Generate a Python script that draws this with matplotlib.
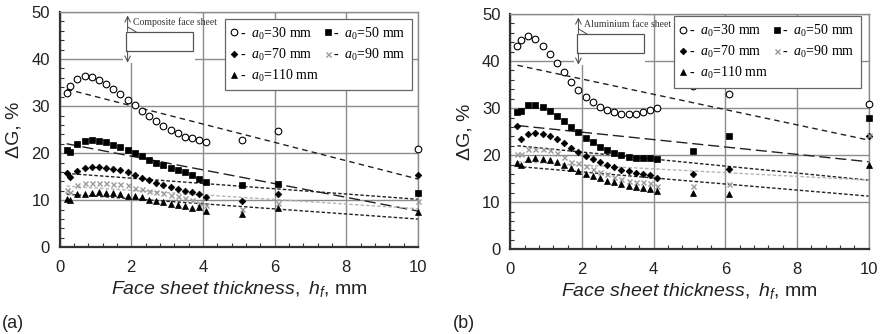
import numpy as np
import matplotlib
matplotlib.use("Agg")
import matplotlib.pyplot as plt
from matplotlib.lines import Line2D
from matplotlib.patches import Rectangle

plt.rcParams['font.family'] = ['Liberation Sans', 'DejaVu Sans']
plt.rcParams['mathtext.fontset'] = 'custom'
plt.rcParams['mathtext.rm'] = 'Liberation Sans'
plt.rcParams['mathtext.it'] = 'Liberation Sans:italic'
plt.rcParams['mathtext.sf'] = 'Liberation Serif:italic'
plt.rcParams['mathtext.tt'] = 'Liberation Serif'

# ---------------- data ----------------
x = [0.2, 0.3, 0.5, 0.7, 0.9, 1.1, 1.3, 1.5, 1.7, 1.9, 2.1, 2.3, 2.5, 2.7, 2.9,
     3.1, 3.3, 3.5, 3.7, 3.9, 4.1, 5.1, 6.1, 10.0]

# (a) composite face sheet
a_30 = [32.7, 34.2, 35.7, 36.3, 36.1, 35.6, 34.8, 33.7, 32.6, 31.4, 30.2, 29.0, 27.9,
        26.9, 25.8, 25.0, 24.2, 23.5, 23.3, 22.9, 22.3, 22.7, 24.8, 20.9]
a_50 = [20.7, 20.3, 21.9, 22.5, 22.7, 22.6, 22.3, 21.8, 21.3, 20.6, 20.1, 19.3, 18.6,
        18.0, 17.4, 16.9, 16.4, 15.9, 15.4, 14.5, 13.9, 13.2, 13.5, 11.5]
a_70 = [15.7, 15.0, 16.3, 16.8, 17.0, 17.0, 16.9, 16.7, 16.4, 15.9, 15.4, 14.8, 14.3,
        13.7, 13.3, 12.8, 12.3, 12.0, 11.7, 11.4, 10.6, 9.9, 11.3, 15.4]
a_90 = [12.1, 11.8, 13.3, 13.6, 13.6, 13.6, 13.6, 13.5, 13.4, 13.3, 12.7, 12.4, 12.0,
        11.8, 11.5, 11.2, 10.9, 10.5, 10.1, 9.5, 9.0, 8.1, 9.4, 9.9]
a_110 = [10.2, 10.0, 11.3, 11.4, 11.6, 11.7, 11.6, 11.5, 11.3, 11.0, 10.8, 10.6, 10.1,
         9.8, 9.6, 9.2, 8.9, 8.7, 8.4, 8.5, 7.8, 7.0, 8.3, 7.6]

# (b) aluminium face sheet
b_30 = [43.1, 44.4, 45.3, 44.6, 43.3, 41.4, 39.5, 37.6, 35.6, 33.9, 32.4, 31.2, 30.2,
        29.6, 29.2, 28.8, 28.7, 28.7, 29.1, 29.6, 30.0, 34.7, 33.0, 30.9]
b_50 = [29.1, 29.3, 30.6, 30.6, 30.2, 29.4, 28.3, 27.2, 26.0, 24.9, 23.6, 22.7, 21.7,
        21.1, 20.5, 20.0, 19.7, 19.5, 19.4, 19.4, 19.2, 20.9, 24.1, 28.0]
b_70 = [26.3, 23.4, 24.6, 24.7, 24.6, 24.1, 23.4, 22.5, 21.6, 20.7, 19.8, 19.1, 18.5,
        17.9, 17.4, 16.9, 16.6, 16.3, 16.0, 15.8, 15.2, 15.9, 17.1, 24.0]
b_90 = [20.3, 20.3, 21.3, 21.4, 21.3, 21.0, 20.5, 19.7, 18.6, 18.3, 17.7, 17.1, 16.4,
        15.9, 15.4, 14.9, 14.5, 14.3, 14.2, 14.0, 13.5, 13.5, 13.8, 24.2]
b_110 = [18.3, 17.9, 19.2, 19.3, 19.2, 19.0, 18.5, 17.9, 17.3, 16.7, 16.1, 15.6, 15.1,
         14.6, 14.2, 13.8, 13.5, 13.2, 13.1, 12.9, 12.3, 12.0, 11.7, 17.9]

# trend lines: value at start (x=0.2) and end (x=10)
trend_x = [0.2, 10.0]
a_trend = {30: [33.6, 14.5], 50: [22.0, 7.7], 70: [15.7, 10.2], 90: [13.0, 8.2], 110: [11.3, 6.0]}
b_trend = {30: [39.1, 23.2], 50: [26.3, 18.6], 70: [22.0, 14.7], 90: [18.6, 14.7], 110: [17.6, 11.3]}

crack_lengths = [30, 50, 70, 90, 110]
panel_labels = ['(a)', '(b)']
sheet_labels = ['Composite face sheet', 'Aluminium face sheet']

# ---------------- styles ----------------
mstyle = {
    30: dict(marker='o', mfc='white', mec='black', ms=4.8, mew=0.8),
    50: dict(marker='s', mfc='black', mec='black', ms=4.8, mew=0.5),
    70: dict(marker='D', mfc='black', mec='black', ms=3.4, mew=0.5),
    90: dict(marker='x', mfc='#999999', mec='#999999', ms=3.6, mew=1.0),
    110: dict(marker='^', mfc='black', mec='black', ms=4.8, mew=0.5),
}
lstyle = {
    30: dict(color='#222222', lw=1.0, dashes=(4, 3)),
    50: dict(color='#222222', lw=1.0, dashes=(8, 3.5)),
    70: dict(color='#222222', lw=1.0, dashes=(2.5, 1.5)),
    90: dict(color='#b5b5b5', lw=1.0, dashes=(2.5, 1.5)),
    110: dict(color='#222222', lw=1.0, dashes=(2.5, 1.5)),
}

W, H = 882, 334
fig = plt.figure(figsize=(W / 100, H / 100), dpi=100)

axes_px = [(59.5, 418.0, 12.0, 247.3), (510.3, 868.7, 14.0, 249.3)]
data_sets = [[a_30, a_50, a_70, a_90, a_110], [b_30, b_50, b_70, b_90, b_110]]
trends = [a_trend, b_trend]
legend_anchor = [(0.983, 0.97), (0.978, 0.991)]

for i in range(2):
    l, r, t, b = axes_px[i]
    ax = fig.add_axes([l / W, (H - b) / H, (r - l) / W, (b - t) / H])
    ax.set_xlim(0, 10)
    ax.set_ylim(0, 50)
    ax.set_xticks(np.arange(0, 11, 2))
    ax.set_yticks(np.arange(0, 51, 10))
    ax.set_xticks(np.arange(0, 10.01, 0.4), minor=True)
    ax.set_yticks(np.arange(0, 50.01, 2), minor=True)
    ax.grid(True, which='major', color='#8c8c8c', lw=1.0)
    ax.tick_params(which='major', length=0, labelsize=12, colors='#222222')
    ax.tick_params(axis='x', which='major', pad=9)
    ax.tick_params(axis='y', which='major', pad=7)
    ax.tick_params(which='minor', direction='in', length=3, width=0.8, color='#333333')
    ax.tick_params(axis='x', which='minor', top=False)
    ax.tick_params(axis='y', which='minor', right=False)
    for s in ['left', 'bottom']:
        ax.spines[s].set_color('#333333')
        ax.spines[s].set_linewidth(1.6)
    for s in ['top', 'right']:
        ax.spines[s].set_color('#8c8c8c')
        ax.spines[s].set_linewidth(1.0)
    ax.set_axisbelow(True)

    # trend lines
    for c in crack_lengths:
        ax.plot(trend_x, trends[i][c], **lstyle[c], zorder=2)
    # data
    for c, ys in zip(crack_lengths, data_sets[i]):
        ax.plot(x, ys, ls='none', **mstyle[c], zorder=3, clip_on=False)

    # schematic of face sheet
    ax.add_patch(Rectangle((0.177, 0.785), 0.20, 0.215, transform=ax.transAxes,
                           facecolor='white', edgecolor='none', zorder=1.5))
    ax.add_patch(Rectangle((0.185, 0.834), 0.188, 0.081, transform=ax.transAxes,
                           facecolor='white', edgecolor='#555555', lw=0.9, zorder=4))
    ax.annotate('', xy=(0.19, 0.985), xytext=(0.19, 0.918), xycoords='axes fraction',
                arrowprops=dict(arrowstyle='->', color='#444444', lw=0.7,
                                shrinkA=0, shrinkB=0), zorder=4)
    ax.annotate('', xy=(0.19, 0.785), xytext=(0.19, 0.834), xycoords='axes fraction',
                arrowprops=dict(arrowstyle='->', color='#444444', lw=0.7,
                                shrinkA=0, shrinkB=0), zorder=4)
    ax.plot([0.192, 0.214], [0.935, 0.915], transform=ax.transAxes, color='#444444',
            lw=0.7, zorder=4)
    ax.text(0.206, 0.955, sheet_labels[i], transform=ax.transAxes, fontsize=7.0,
            family='Liberation Serif', color='#333333', va='center', ha='left', zorder=4)

    # legend
    order = [30, 70, 110, 50, 90]
    handles = [Line2D([], [], ls='none', **mstyle[c]) for c in order]
    labels = [r'-  $\mathsf{a}_\mathtt{0}$=%d mm' % c for c in order]
    leg = ax.legend(handles, labels, ncol=2, loc='upper right',
                    bbox_to_anchor=legend_anchor[i], borderaxespad=0,
                    prop={'family': 'Liberation Serif', 'size': 10.0},
                    handlelength=0.5, handletextpad=0.15, columnspacing=0.35,
                    labelspacing=0.35, borderpad=0.45, fancybox=False,
                    framealpha=1, edgecolor='#666666')
    leg.get_frame().set_linewidth(0.9)
    leg.set_zorder(5)

    ax.set_xlabel(r'$\mathit{Face\ sheet\ thickness,\ h_f}$, mm', fontsize=14,
                  labelpad=3, color='#222222')
    ax.set_ylabel('ΔG, %', fontsize=14, labelpad=6, color='#222222')

    fig.text((l - 59.5) / W + 0.002, 1 - 323 / H, panel_labels[i], fontsize=13,
             ha='left', va='center', color='#222222')

fig.savefig('out.png', dpi=100)
